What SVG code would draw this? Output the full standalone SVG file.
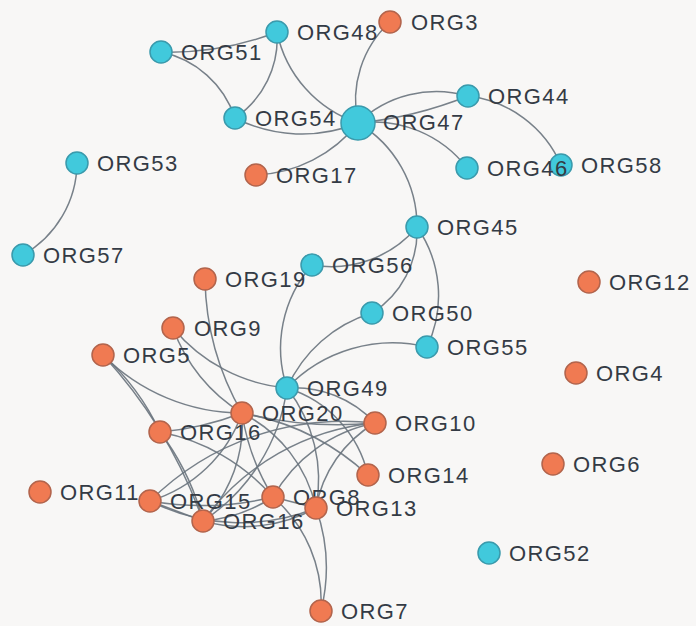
<svg xmlns="http://www.w3.org/2000/svg" width="696" height="626" viewBox="0 0 696 626">
<style>
.bg{fill:#f8f7f6}
.e{fill:none;stroke:#69737d;stroke-width:1.5;stroke-opacity:0.9}
.cy{fill:#41c9dc;stroke:#3a9aac;stroke-width:1.5}
.or{fill:#f07a52;stroke:#b2644c;stroke-width:1.5}
.lb{font-family:"Liberation Sans",Arial,Helvetica,sans-serif;font-size:22px;letter-spacing:1.4px;fill:#343b45}
</style>
<rect class="bg" x="0" y="0" width="696" height="626"/>
<g id="edges">
<path class="e" d="M161 52 A294 294 0 0 0 277 32"/>
<path class="e" d="M161 52 A99 99 0 0 1 235 118"/>
<path class="e" d="M277 32 A96 96 0 0 1 235 118"/>
<path class="e" d="M277 32 A122 122 0 0 0 358 123"/>
<path class="e" d="M235 118 A148 148 0 0 0 358 123"/>
<path class="e" d="M390 22 A106 106 0 0 0 358 123"/>
<path class="e" d="M358 123 A137 137 0 0 1 256 175"/>
<path class="e" d="M358 123 A113 113 0 0 1 468 96"/>
<path class="e" d="M358 123 A400 400 0 0 0 468 96"/>
<path class="e" d="M358 123 A118 118 0 0 1 467 168"/>
<path class="e" d="M468 96 A116 116 0 0 1 561 165"/>
<path class="e" d="M358 123 A120 120 0 0 1 417 227"/>
<path class="e" d="M77 163 A107 107 0 0 1 23 255"/>
<path class="e" d="M417 227 A112 112 0 0 1 312 265"/>
<path class="e" d="M417 227 A97 97 0 0 1 372 313"/>
<path class="e" d="M417 227 A120 120 0 0 1 427 347"/>
<path class="e" d="M312 265 A126 126 0 0 0 287 388"/>
<path class="e" d="M372 313 A136 136 0 0 0 287 388"/>
<path class="e" d="M427 347 A146 146 0 0 0 287 388"/>
<path class="e" d="M173 328 A167 167 0 0 0 287 388"/>
<path class="e" d="M173 328 A164 164 0 0 0 242 413"/>
<path class="e" d="M205 279 A278 278 0 0 0 242 413"/>
<path class="e" d="M103 355 A196 196 0 0 0 242 413"/>
<path class="e" d="M103 355 A240 240 0 0 1 160 432"/>
<path class="e" d="M103 355 A485 485 0 0 1 203 521"/>
<path class="e" d="M160 432 A250 250 0 0 1 203 521"/>
<path class="e" d="M160 432 A300 300 0 0 0 242 413"/>
<path class="e" d="M160 432 A200 200 0 0 1 273 497"/>
<path class="e" d="M242 413 A140 140 0 0 1 150 501"/>
<path class="e" d="M242 413 A140 140 0 0 1 203 521"/>
<path class="e" d="M242 413 A220 220 0 0 0 273 497"/>
<path class="e" d="M242 413 A140 140 0 0 1 316 508"/>
<path class="e" d="M242 413 A250 250 0 0 1 368 475"/>
<path class="e" d="M242 413 A400 400 0 0 0 375 423"/>
<path class="e" d="M287 388 A110 110 0 0 1 375 423"/>
<path class="e" d="M287 388 A119 119 0 0 1 368 475"/>
<path class="e" d="M287 388 A150 150 0 0 1 316 508"/>
<path class="e" d="M287 388 A190 190 0 0 1 203 521"/>
<path class="e" d="M375 423 A240 240 0 0 0 203 521"/>
<path class="e" d="M150 501 A275 275 0 0 1 375 423"/>
<path class="e" d="M375 423 A124 124 0 0 0 316 508"/>
<path class="e" d="M375 423 A150 150 0 0 0 273 497"/>
<path class="e" d="M150 501 L203 521"/>
<path class="e" d="M150 501 A300 300 0 0 0 273 497"/>
<path class="e" d="M203 521 A150 150 0 0 0 273 497"/>
<path class="e" d="M203 521 A150 150 0 0 0 316 508"/>
<path class="e" d="M150 501 A200 200 0 0 0 316 508"/>
<path class="e" d="M273 497 L316 508"/>
<path class="e" d="M321 611 A140 140 0 0 0 273 497"/>
<path class="e" d="M321 611 A180 180 0 0 0 316 508"/>
</g>
<g id="node-ORG48"><circle class="cy" cx="277" cy="32" r="11"/><text class="lb" x="297" y="40">ORG48</text></g>
<g id="node-ORG3"><circle class="or" cx="390" cy="22" r="11"/><text class="lb" x="411" y="30">ORG3</text></g>
<g id="node-ORG51"><circle class="cy" cx="161" cy="52" r="11"/><text class="lb" x="181" y="60">ORG51</text></g>
<g id="node-ORG54"><circle class="cy" cx="235" cy="118" r="11"/><text class="lb" x="255" y="126">ORG54</text></g>
<g id="node-ORG47"><circle class="cy" cx="358" cy="123" r="17"/><text class="lb" x="383" y="130">ORG47</text></g>
<g id="node-ORG17"><circle class="or" cx="256" cy="175" r="11"/><text class="lb" x="276" y="183">ORG17</text></g>
<g id="node-ORG44"><circle class="cy" cx="468" cy="96" r="11"/><text class="lb" x="488" y="104">ORG44</text></g>
<g id="node-ORG58"><circle class="cy" cx="561" cy="165" r="11"/><text class="lb" x="581" y="173">ORG58</text></g>
<g id="node-ORG46"><circle class="cy" cx="467" cy="168" r="11"/><text class="lb" x="487" y="176">ORG46</text></g>
<g id="node-ORG53"><circle class="cy" cx="77" cy="163" r="11"/><text class="lb" x="97" y="171">ORG53</text></g>
<g id="node-ORG57"><circle class="cy" cx="23" cy="255" r="11"/><text class="lb" x="43" y="263">ORG57</text></g>
<g id="node-ORG45"><circle class="cy" cx="417" cy="227" r="11"/><text class="lb" x="437" y="235">ORG45</text></g>
<g id="node-ORG56"><circle class="cy" cx="312" cy="265" r="11"/><text class="lb" x="332" y="273">ORG56</text></g>
<g id="node-ORG19"><circle class="or" cx="205" cy="279" r="11"/><text class="lb" x="225" y="287">ORG19</text></g>
<g id="node-ORG12"><circle class="or" cx="589" cy="282" r="11"/><text class="lb" x="609" y="290">ORG12</text></g>
<g id="node-ORG50"><circle class="cy" cx="372" cy="313" r="11"/><text class="lb" x="392" y="321">ORG50</text></g>
<g id="node-ORG9"><circle class="or" cx="173" cy="328" r="11"/><text class="lb" x="194" y="336">ORG9</text></g>
<g id="node-ORG55"><circle class="cy" cx="427" cy="347" r="11"/><text class="lb" x="447" y="355">ORG55</text></g>
<g id="node-ORG5"><circle class="or" cx="103" cy="355" r="11"/><text class="lb" x="123" y="363">ORG5</text></g>
<g id="node-ORG4"><circle class="or" cx="576" cy="373" r="11"/><text class="lb" x="596" y="381">ORG4</text></g>
<g id="node-ORG49"><circle class="cy" cx="287" cy="388" r="11"/><text class="lb" x="307" y="396">ORG49</text></g>
<g id="node-ORG20"><circle class="or" cx="242" cy="413" r="11"/><text class="lb" x="262" y="421">ORG20</text></g>
<g id="node-ORG10"><circle class="or" cx="375" cy="423" r="11"/><text class="lb" x="395" y="431">ORG10</text></g>
<g id="node-ORG16"><circle class="or" cx="160" cy="432" r="11"/><text class="lb" x="180" y="440">ORG16</text></g>
<g id="node-ORG6"><circle class="or" cx="553" cy="464" r="11"/><text class="lb" x="573" y="472">ORG6</text></g>
<g id="node-ORG14"><circle class="or" cx="368" cy="475" r="11"/><text class="lb" x="388" y="483">ORG14</text></g>
<g id="node-ORG11"><circle class="or" cx="40" cy="492" r="11"/><text class="lb" x="60" y="500">ORG11</text></g>
<g id="node-ORG15"><circle class="or" cx="150" cy="501" r="11"/><text class="lb" x="170" y="509">ORG15</text></g>
<g id="node-ORG16b"><circle class="or" cx="203" cy="521" r="11"/><text class="lb" x="223" y="529">ORG16</text></g>
<g id="node-ORG8"><circle class="or" cx="273" cy="497" r="11"/><text class="lb" x="293" y="505">ORG8</text></g>
<g id="node-ORG13"><circle class="or" cx="316" cy="508" r="11"/><text class="lb" x="336" y="516">ORG13</text></g>
<g id="node-ORG52"><circle class="cy" cx="489" cy="553" r="11"/><text class="lb" x="509" y="561">ORG52</text></g>
<g id="node-ORG7"><circle class="or" cx="321" cy="611" r="11"/><text class="lb" x="341" y="619">ORG7</text></g>
</svg>
